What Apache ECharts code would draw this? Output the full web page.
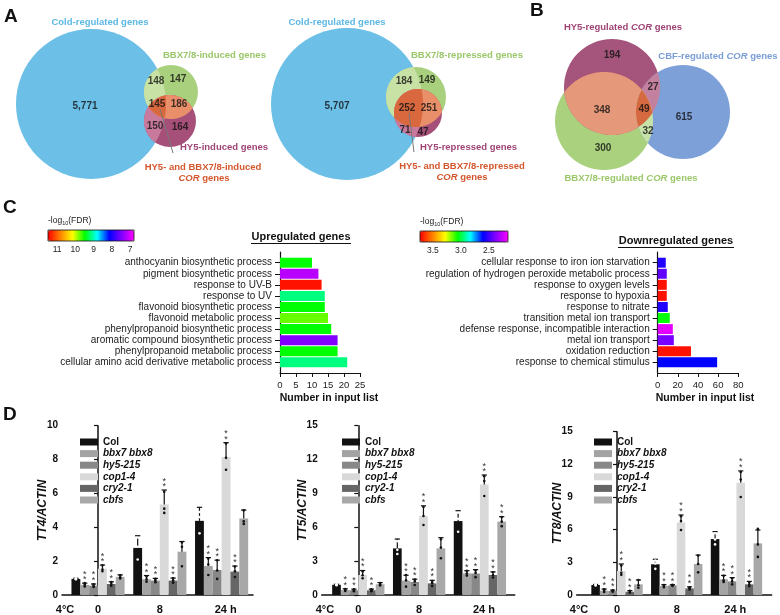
<!DOCTYPE html>
<html>
<head>
<meta charset="utf-8">
<script src="https://cdn.jsdelivr.net/npm/echarts@6/dist/echarts.min.js"></script>
<style>
html, body { margin: 0; padding: 0; background: #fff; }
#main { width: 780px; height: 615px; }
</style>
</head>
<body>
<div id="main"></div>
<script>
var FONT = '"Liberation Sans", Arial, sans-serif';

// ---------- A / B : Venn counts ----------
var coldInducedCounts = [5771, 148, 147, 145, 186, 150, 164];
var coldRepressedCounts = [5707, 184, 149, 252, 251, 71, 47];
var corOverlapCounts = [194, 348, 27, 49, 615, 32, 300];

// ---------- C : GO enrichment ----------
var upTerms = ['anthocyanin biosynthetic process', 'pigment biosynthetic process', 'response to UV-B',
    'response to UV', 'flavonoid biosynthetic process', 'flavonoid metabolic process',
    'phenylpropanoid biosynthetic process', 'aromatic compound biosynthetic process',
    'phenylpropanoid metabolic process', 'cellular amino acid derivative metabolic process'];
var upCounts = [10, 12, 13, 14, 14, 15, 16, 18, 18, 21];
var upFdr = [9.47, 7.16, 11.4, 9.14, 9.47, 9.75, 9.47, 7.44, 9.47, 9.14];

var downTerms = ['cellular response to iron ion starvation', 'regulation of hydrogen peroxide metabolic process',
    'response to oxygen levels', 'response to hypoxia', 'response to nitrate', 'transition metal ion transport',
    'defense response, incompatible interaction', 'metal ion transport', 'oxidation reduction',
    'response to chemical stimulus'];
var downCounts = [8, 9, 9, 9, 10, 12, 15, 16, 33, 59];
var downFdr = [2.55, 2.44, 3.7, 3.7, 2.55, 3.05, 2.21, 2.4, 3.7, 2.61];

var upFdrTicks = [7, 8, 9, 10, 11];
var downFdrTicks = [2.5, 3.0, 3.5];

// ---------- D : qRT-PCR ----------
var timePoints = ['0', '8', '24'];
var genotypes = ['Col', 'bbx7 bbx8', 'hy5-215', 'cop1-4', 'cry2-1', 'cbfs'];

var tt4Mean = [[0.95, 2.78, 4.38], [0.6, 0.93, 1.71], [0.55, 0.85, 1.48], [1.55, 5.35, 8.15], [0.65, 0.85, 1.38], [1.07, 2.56, 4.52]];
var tt4Sd = [[0.04, 0.72, 0.8], [0.1, 0.22, 0.5], [0.1, 0.13, 0.58], [0.22, 0.85, 0.85], [0.13, 0.15, 0.33], [0.12, 0.6, 0.5]];
var tt4Dots = [
    [[0.93, 0.95, 0.97], [2.1, 2.85, 3.4], [3.64, 4.6, 4.9]],
    [[0.5, 0.6, 0.7], [0.78, 0.92, 1.1], [1.18, 1.8, 2.15]],
    [[0.47, 0.55, 0.63], [0.75, 0.85, 0.95], [0.95, 1.45, 2.05]],
    [[1.4, 1.5, 1.75], [4.85, 5.1, 6.1], [7.4, 8.1, 8.95]],
    [[0.55, 0.65, 0.77], [0.72, 0.85, 0.98], [1.06, 1.4, 1.68]],
    [[0.98, 1.05, 1.17], [1.7, 2.85, 3.1], [4.2, 4.35, 5.0]]
];
var tt4Stars = [[0, 0, 0], [1, 1, 1], [1, 1, 1], [1, 1, 1], [1, 1, 1], [0, 0, 0]];

var tt5Mean = [[0.9, 4.13, 6.55], [0.44, 1.27, 1.92], [0.42, 1.15, 1.9], [1.77, 7.0, 9.8], [0.42, 1.03, 1.77], [0.95, 4.13, 6.5]];
var tt5Sd = [[0.05, 0.83, 0.92], [0.11, 0.48, 0.23], [0.1, 0.25, 0.35], [0.4, 0.9, 0.83], [0.1, 0.27, 0.28], [0.15, 0.95, 0.44]];
var tt5Dots = [
    [[0.86, 0.9, 0.94], [3.63, 4.0, 4.76], [5.6, 6.75, 7.3]],
    [[0.36, 0.44, 0.52], [0.74, 1.3, 1.77], [1.72, 1.9, 2.14]],
    [[0.34, 0.42, 0.5], [0.89, 1.2, 1.36], [1.58, 1.95, 2.17]],
    [[1.48, 1.75, 2.08], [6.2, 7.0, 7.8], [8.77, 10.1, 10.53]],
    [[0.34, 0.42, 0.5], [0.8, 1.05, 1.24], [1.55, 1.75, 2.01]],
    [[0.84, 0.95, 1.06], [3.25, 4.2, 4.94], [6.1, 6.5, 6.9]]
];
var tt5Stars = [[0, 0, 0], [1, 1, 1], [1, 1, 1], [1, 1, 1], [1, 1, 1], [0, 0, 1]];

var tt8Mean = [[0.92, 2.82, 5.14], [0.4, 0.83, 1.44], [0.37, 0.89, 1.25], [2.2, 6.67, 10.3], [0.3, 0.61, 0.98], [0.98, 2.85, 4.74]];
var tt8Sd = [[0.05, 0.46, 0.68], [0.15, 0.12, 0.36], [0.08, 0.06, 0.35], [0.65, 0.68, 1.1], [0.1, 0.14, 0.27], [0.4, 0.82, 1.23]];
var tt8Dots = [
    [[0.88, 0.92, 0.96], [2.4, 2.9, 3.16], [4.65, 5.1, 5.67]],
    [[0.28, 0.4, 0.52], [0.72, 0.85, 0.92], [1.2, 1.35, 1.77]],
    [[0.3, 0.38, 0.43], [0.84, 0.9, 0.93], [0.98, 1.25, 1.52]],
    [[1.85, 2.05, 2.7], [5.97, 6.8, 7.24], [9.0, 10.6, 11.3]],
    [[0.22, 0.3, 0.38], [0.5, 0.62, 0.71], [0.8, 0.97, 1.17]],
    [[0.66, 0.9, 1.38], [2.08, 2.85, 3.62], [3.5, 4.65, 6.07]]
];
var tt8Stars = [[0, 0, 0], [1, 1, 1], [1, 1, 1], [1, 1, 1], [1, 1, 1], [0, 0, 0]];

// ---------- layout / styles ----------
var genoColors = ['#111111', '#a3a3a3', '#888888', '#d9d9d9', '#666666', '#a8a8a8'];
var fdrColors = ['#ff00ff', '#8000ff', '#0000ff', '#00ffff', '#00ff00', '#ffff00', '#ff8000', '#ff0000'];

// circles [cx, cy, r] in pixel units of the top band
var vennCircles = [
    [91, 104, 75], [171, 92, 27], [170, 121, 26],
    [347, 104, 76], [416, 97, 30], [418, 113, 24],
    [612, 87, 48], [604, 121, 49], [683, 112, 47]
];
// regions: circles intersected, fill colour (painted in order)
var vennRegions = [
    [[0], '#6cbfe7'], [[1], '#a9d17d'], [[1, 0], '#c8e2a6'], [[2], '#a65079'], [[2, 0], '#c97a9c'],
    [[1, 2], '#e98f6a'], [[0, 1, 2], '#d9683f'],
    [[3], '#6cbfe7'], [[4], '#a9d17d'], [[4, 3], '#c8e2a6'], [[5], '#a65079'], [[5, 3], '#c97a9c'],
    [[4, 5], '#e98f6a'], [[3, 4, 5], '#d9683f'],
    [[7], '#a9d17e'], [[6], '#a5557b'], [[8], '#7ea0d9'], [[6, 7], '#e6987a'], [[6, 8], '#c3819f'],
    [[7, 8], '#c7e2a9'], [[6, 7, 8], '#d6693f']
];
var vennLabelPos = [
    [85, 106], [156, 81], [178, 79], [157, 104], [179, 104], [155, 126], [180, 127],
    [337, 106], [404, 81], [427, 80], [407, 108], [429, 108], [405, 130], [423, 132],
    [612, 55], [602, 110], [653, 87], [644, 109], [684, 117], [648, 131], [603, 148]
];

function regionPoints(circles) {
    var pts = [];
    circles.forEach(function (c, i) {
        for (var a = 0; a < 360; a++) {
            var t = a * Math.PI / 180;
            var p = [c[0] + c[2] * Math.cos(t), c[1] + c[2] * Math.sin(t)];
            var ok = circles.every(function (o, j) {
                return j === i || Math.hypot(p[0] - o[0], p[1] - o[1]) <= o[2] + 0.01;
            });
            if (ok) pts.push(p);
        }
    });
    var mx = 0, my = 0;
    pts.forEach(function (p) { mx += p[0]; my += p[1]; });
    mx /= pts.length; my /= pts.length;
    pts.sort(function (p, q) {
        return Math.atan2(p[1] - my, p[0] - mx) - Math.atan2(q[1] - my, q[0] - mx);
    });
    return pts;
}

function vennRender(params, api) {
    var reg = vennRegions[params.dataIndex];
    var circles = reg[0].map(function (ci) {
        var c = vennCircles[ci];
        var p = api.coord([c[0], c[1]]);
        return [p[0], p[1], api.size([c[2], 0])[0]];
    });
    if (circles.length === 1) {
        return { type: 'circle', shape: { cx: circles[0][0], cy: circles[0][1], r: circles[0][2] }, style: { fill: reg[1] } };
    }
    return { type: 'polygon', shape: { points: regionPoints(circles) }, style: { fill: reg[1] } };
}

var vennCounts = coldInducedCounts.concat(coldRepressedCounts, corOverlapCounts);

// GO bars: horizontal rects on value axes, colour from visualMap
function goBarRender(params, api) {
    var c = api.value(0), i = api.value(1);
    var p0 = api.coord([0, i]), p1 = api.coord([c, i]);
    var h = Math.abs(api.size([0, 1])[1]) * 0.9;
    return {
        type: 'rect',
        shape: { x: p0[0], y: p0[1] - h / 2, width: p1[0] - p0[0], height: h },
        style: { fill: api.visual('color') }
    };
}

// ---------- D helpers ----------
function starText(x, y) {
    return { type: 'text', x: x, y: y,
        style: { text: '*', textAlign: 'center', align: 'center', textVerticalAlign: 'top', verticalAlign: 'top',
            fontSize: 9, fill: '#333', fontFamily: FONT } };
}

function qpcrSeries(ax, mean, sd, dots, stars) {
    var list = [];
    genotypes.forEach(function (g, k) {
        list.push({
            type: 'bar', name: g, xAxisIndex: ax, yAxisIndex: ax,
            data: timePoints.map(function (t, j) { return [j, mean[k][j]]; }),
            barGap: '0%', barCategoryGap: '14%',
            itemStyle: { color: genoColors[k] }
        });
    });
    var errData = [];
    genotypes.forEach(function (g, k) {
        timePoints.forEach(function (t, j) {
            errData.push([j, mean[k][j], sd[k][j], k, stars[k][j]]);
        });
    });
    list.push({
        type: 'custom', name: 'err', xAxisIndex: ax, yAxisIndex: ax, z: 5,
        data: errData,
        renderItem: function (params, api) {
            var j = api.value(0), m = api.value(1), s = api.value(2), k = api.value(3), star = api.value(4);
            var band = api.size([1, 0])[0];
            var bw = band * 0.86 / 6;
            var cx = api.coord([j, m])[0] + (k - 2.5) * bw;
            var yM = api.coord([j, m])[1], yT = api.coord([j, m + s])[1];
            var cap = bw * 0.3;
            var kids = [
                { type: 'line', shape: { x1: cx, y1: yM, x2: cx, y2: yT }, style: { stroke: '#111', lineWidth: 1.2 } },
                { type: 'line', shape: { x1: cx - cap, y1: yT, x2: cx + cap, y2: yT }, style: { stroke: '#111', lineWidth: 1.2 } }
            ];
            dots[k][j].forEach(function (d) {
                kids.push({ type: 'circle', shape: { cx: cx, cy: api.coord([j, d])[1], r: 1.3 },
                    style: { fill: k === 0 ? '#fff' : '#111' } });
            });
            if (star) {
                kids.push(starText(cx, yT - 8));
                kids.push(starText(cx, yT - 13.5));
            }
            return { type: 'group', children: kids };
        }
    });
    return list;
}

function qpcrX(grid, min, max, labelPos, labels) {
    return {
        gridIndex: grid, type: 'value', min: min, max: max,
        axisLine: { show: true, onZero: false, lineStyle: { color: '#111', width: 1.5 } },
        axisTick: { show: false },
        splitLine: { show: false },
        axisLabel: {
            customValues: labelPos, margin: 9, fontFamily: FONT, fontWeight: 'bold', fontSize: 11, color: '#111',
            formatter: function (v) { return labels[labelPos.indexOf(v)]; }
        }
    };
}

function qpcrY(grid, max, interval, name) {
    return {
        gridIndex: grid, type: 'value', min: 0, max: max, interval: interval,
        axisLine: { show: true, lineStyle: { color: '#111', width: 1.5 } },
        axisTick: { show: true, length: 4, lineStyle: { color: '#111', width: 1.2 } },
        splitLine: { show: false },
        axisLabel: { fontFamily: FONT, fontWeight: 'bold', fontSize: 10, color: '#111', margin: 4 },
        name: name, nameLocation: 'middle', nameGap: 13, nameMoveOverlap: false,
        nameTextStyle: { fontFamily: FONT, fontWeight: 'bold', fontStyle: 'italic', fontSize: 12, color: '#111' }
    };
}

function qpcrLegend(left, top) {
    return {
        orient: 'vertical', left: left, top: top, padding: 0,
        itemWidth: 18, itemHeight: 7, itemGap: 1.6, icon: 'rect',
        data: genotypes, selectedMode: false,
        formatter: function (n) { return n === 'Col' ? '{n|' + n + '}' : '{i|' + n + '}'; },
        textStyle: {
            color: '#111', padding: [0, 0, 0, 0],
            rich: {
                n: { fontFamily: FONT, fontWeight: 'bold', fontSize: 10, color: '#111', lineHeight: 10 },
                i: { fontFamily: FONT, fontWeight: 'bold', fontStyle: 'italic', fontSize: 10, color: '#111', lineHeight: 10 }
            }
        }
    };
}

// ---------- C helpers ----------
function goX(grid, max, interval, namePad) {
    return {
        gridIndex: grid, type: 'value', min: 0, max: max, interval: interval,
        axisLine: { show: true, onZero: false, lineStyle: { color: '#111', width: 1.2 } },
        axisTick: { show: true, length: 4, lineStyle: { color: '#111' } },
        splitLine: { show: false },
        axisLabel: { fontFamily: FONT, fontSize: 9.5, color: '#222', margin: 7 },
        name: 'Number in input list', nameLocation: 'middle', nameGap: 20, nameMoveOverlap: false,
        nameTextStyle: { fontFamily: FONT, fontWeight: 'bold', fontSize: 10.5, color: '#111', padding: [0, 0, 0, namePad] }
    };
}
var termIdx = [0, 1, 2, 3, 4, 5, 6, 7, 8, 9];
function goY(grid, terms) {
    return {
        gridIndex: grid, type: 'value', inverse: true, min: -0.967, max: 9.967,
        axisLine: { show: true, onZero: false, lineStyle: { color: '#111', width: 1.2 } },
        axisTick: { show: true, length: 5, customValues: termIdx, lineStyle: { color: '#111' } },
        splitLine: { show: false },
        axisLabel: {
            customValues: termIdx, fontFamily: FONT, fontSize: 10, color: '#222', margin: 8,
            formatter: function (v) { return terms[Math.round(v)]; }
        }
    };
}
function cbX(grid, min, max, ticks, pos, showLabel, digits) {
    return {
        gridIndex: grid, type: 'value', min: min, max: max, inverse: true, position: pos,
        axisLine: { show: false },
        axisTick: { show: true, inside: true, length: 2.5, customValues: ticks, lineStyle: { color: '#111', width: 1 } },
        splitLine: { show: false },
        axisLabel: {
            show: showLabel, customValues: ticks, fontFamily: FONT, fontSize: 8.5, color: '#222', margin: 4,
            formatter: function (v) { return v.toFixed(digits); }
        }
    };
}

function txt(x, y, text, opt) {
    var st = { text: text, textAlign: opt.align || 'left', align: opt.align || 'left',
        textVerticalAlign: 'middle', verticalAlign: 'middle',
        fontFamily: FONT, fontSize: opt.size || 9.5, fontWeight: opt.weight || 'bold',
        fill: opt.color || '#111' };
    if (opt.rich) st.rich = opt.rich;
    return { type: 'text', x: x, y: y, style: st, z: 100 };
}
function corRich(color) {
    var base = { fontFamily: FONT, fontSize: 9.5, fontWeight: 'bold', fill: color, color: color };
    return { b: base, i: Object.assign({}, base, { fontStyle: 'italic' }) };
}
var fdrRich = {
    a: { fontFamily: FONT, fontSize: 8.5, color: '#222', fill: '#222' },
    s: { fontFamily: FONT, fontSize: 5.5, color: '#222', fill: '#222', padding: [5, 0, 0, 0] }
};

var blueTxt = '#5cb8e4', greenTxt = '#9bc76a', purpleTxt = '#9e4475', orangeTxt = '#d4572e', cbfTxt = '#7a9dd6';

var graphics = [
    txt(4, 17, 'A', { size: 19 }),
    txt(530, 11, 'B', { size: 19 }),
    txt(3, 208, 'C', { size: 19 }),
    txt(3, 415, 'D', { size: 19 }),
    txt(100, 22, 'Cold-regulated genes', { align: 'center', color: blueTxt }),
    txt(163, 55, 'BBX7/8-induced genes', { color: greenTxt }),
    txt(180, 147, 'HY5-induced genes', { color: purpleTxt }),
    txt(203, 167, 'HY5- and BBX7/8-induced', { align: 'center', color: orangeTxt }),
    txt(204, 178, '{i|COR}{b| genes}', { align: 'center', color: orangeTxt, rich: corRich(orangeTxt) }),
    txt(337, 22, 'Cold-regulated genes', { align: 'center', color: blueTxt }),
    txt(411, 55, 'BBX7/8-repressed genes', { color: greenTxt }),
    txt(420, 147, 'HY5-repressed genes', { color: purpleTxt }),
    txt(462, 166, 'HY5- and BBX7/8-repressed', { align: 'center', color: orangeTxt }),
    txt(462, 177, '{i|COR}{b| genes}', { align: 'center', color: orangeTxt, rich: corRich(orangeTxt) }),
    txt(623, 27, '{b|HY5-regulated }{i|COR}{b| genes}', { align: 'center', color: purpleTxt, rich: corRich(purpleTxt) }),
    txt(718, 56, '{b|CBF-regulated }{i|COR}{b| genes}', { align: 'center', color: cbfTxt, rich: corRich(cbfTxt) }),
    txt(631, 178, '{b|BBX7/8-regulated }{i|COR}{b| genes}', { align: 'center', color: greenTxt, rich: corRich(greenTxt) }),
    { type: 'line', shape: { x1: 160, y1: 109, x2: 173, y2: 153 }, style: { stroke: '#777', lineWidth: 1 }, z: 100 },
    { type: 'line', shape: { x1: 409, y1: 113, x2: 414, y2: 152 }, style: { stroke: '#777', lineWidth: 1 }, z: 100 },
    txt(48, 221, '{a|-log}{s|10}{a|(FDR)}', { rich: fdrRich, weight: 'normal', size: 8.5 }),
    txt(420, 222, '{a|-log}{s|10}{a|(FDR)}', { rich: fdrRich, weight: 'normal', size: 8.5 }),
    txt(301, 237, 'Upregulated genes', { align: 'center', size: 11 }),
    { type: 'line', shape: { x1: 251, y1: 243.5, x2: 351, y2: 243.5 }, style: { stroke: '#111', lineWidth: 1 }, z: 100 },
    txt(676, 241, 'Downregulated genes', { align: 'center', size: 11 }),
    { type: 'line', shape: { x1: 618, y1: 247.5, x2: 734, y2: 247.5 }, style: { stroke: '#111', lineWidth: 1 }, z: 100 }
];

var series = [
    {
        type: 'custom', name: 'venn', xAxisIndex: 0, yAxisIndex: 0, silent: true,
        data: vennRegions.map(function () { return [0, 0]; }),
        renderItem: vennRender
    },
    {
        type: 'scatter', name: 'venn counts', xAxisIndex: 0, yAxisIndex: 0, symbolSize: 1, z: 10,
        itemStyle: { color: 'transparent' },
        data: vennCounts.map(function (c, i) { return [vennLabelPos[i][0], vennLabelPos[i][1], c]; }),
        label: {
            show: true, position: 'inside', fontFamily: FONT, fontWeight: 'bold', fontSize: 10, color: '#111',
            formatter: function (p) { return p.value[2].toLocaleString('en-US'); }
        }
    },
    {
        type: 'custom', name: 'up', xAxisIndex: 1, yAxisIndex: 1, encode: { x: 0, y: 1 },
        data: upCounts.map(function (c, i) { return [c, i, upFdr[i]]; }),
        renderItem: goBarRender
    },
    {
        type: 'custom', name: 'down', xAxisIndex: 2, yAxisIndex: 2, encode: { x: 0, y: 1 },
        data: downCounts.map(function (c, i) { return [c, i, downFdr[i]]; }),
        renderItem: goBarRender
    }
];
series = series.concat(
    qpcrSeries(7, tt4Mean, tt4Sd, tt4Dots, tt4Stars),
    qpcrSeries(8, tt5Mean, tt5Sd, tt5Dots, tt5Stars),
    qpcrSeries(9, tt8Mean, tt8Sd, tt8Dots, tt8Stars)
);

var noBounds = { outerBoundsMode: 'none', containLabel: false };
var option = {
    animation: false,
    backgroundColor: '#fff',
    textStyle: { fontFamily: FONT },
    grid: [
        Object.assign({ left: 0, top: 0, width: 780, height: 200 }, noBounds),
        Object.assign({ left: 280, top: 252, width: 80, height: 121 }, noBounds),
        Object.assign({ left: 657.7, top: 252, width: 80.6, height: 121 }, noBounds),
        Object.assign({ left: 48, top: 230, width: 86, height: 11, show: true, borderColor: '#111', borderWidth: 0.8, backgroundColor: 'transparent', z: 6 }, noBounds),
        Object.assign({ left: 420, top: 231, width: 88, height: 11, show: true, borderColor: '#111', borderWidth: 0.8, backgroundColor: 'transparent', z: 6 }, noBounds),
        Object.assign({ left: 62, top: 425.7, width: 191, height: 169.3 }, noBounds),
        Object.assign({ left: 321.7, top: 425.7, width: 193, height: 169.3 }, noBounds),
        Object.assign({ left: 576.7, top: 431.7, width: 195, height: 163.3 }, noBounds)
    ],
    xAxis: [
        { gridIndex: 0, type: 'value', min: 0, max: 780, show: false },
        goX(1, 25, 5, 18),
        goX(2, 80, 20, 14),
        cbX(3, 6.78, 11.5, upFdrTicks, 'bottom', true, 0),
        cbX(3, 6.78, 11.5, upFdrTicks, 'top', false, 0),
        cbX(4, 2.16, 3.73, downFdrTicks, 'bottom', true, 1),
        cbX(4, 2.16, 3.73, downFdrTicks, 'top', false, 1),
        qpcrX(5, -0.583, 2.508, [-0.534, 0, 1, 2.067], ['4°C', '0', '8', '24 h']),
        qpcrX(6, -0.602, 2.572, [-0.548, 0, 1, 2.067], ['4°C', '0', '8', '24 h']),
        qpcrX(7, -0.675, 2.59, [-0.636, 0, 1, 1.98], ['4°C', '0', '8', '24 h'])
    ],
    yAxis: [
        { gridIndex: 0, type: 'value', min: 0, max: 200, inverse: true, show: false },
        goY(1, upTerms),
        goY(2, downTerms),
        { gridIndex: 3, type: 'value', min: 0, max: 1, show: false },
        { gridIndex: 4, type: 'value', min: 0, max: 1, show: false },
        qpcrY(5, 10, 2, 'TT4/ACTIN'),
        qpcrY(6, 15, 3, 'TT5/ACTIN'),
        qpcrY(7, 15, 3, 'TT8/ACTIN')
    ],
    visualMap: [
        {
            type: 'continuous', orient: 'horizontal', inverse: true, min: 6.78, max: 11.5, dimension: 2,
            seriesIndex: 2, calculable: false, left: 48, top: 230, itemWidth: 11, itemHeight: 86,
            padding: 0, text: null, showLabel: false, inRange: { color: fdrColors }
        },
        {
            type: 'continuous', orient: 'horizontal', inverse: true, min: 2.16, max: 3.73, dimension: 2,
            seriesIndex: 3, calculable: false, left: 420, top: 231, itemWidth: 11, itemHeight: 88,
            padding: 0, text: null, showLabel: false, inRange: { color: fdrColors }
        }
    ],
    legend: [qpcrLegend(80, 437), qpcrLegend(342, 437), qpcrLegend(594, 437)],
    graphic: graphics,
    series: series
};

// qPCR series use x axes 7..9 and y axes 5..7
option.series.forEach(function (s) {
    if (s.xAxisIndex >= 7) s.yAxisIndex = s.xAxisIndex - 2;
});

var chart = echarts.init(document.getElementById('main'));
chart.setOption(option);
</script>
</body>
</html>
